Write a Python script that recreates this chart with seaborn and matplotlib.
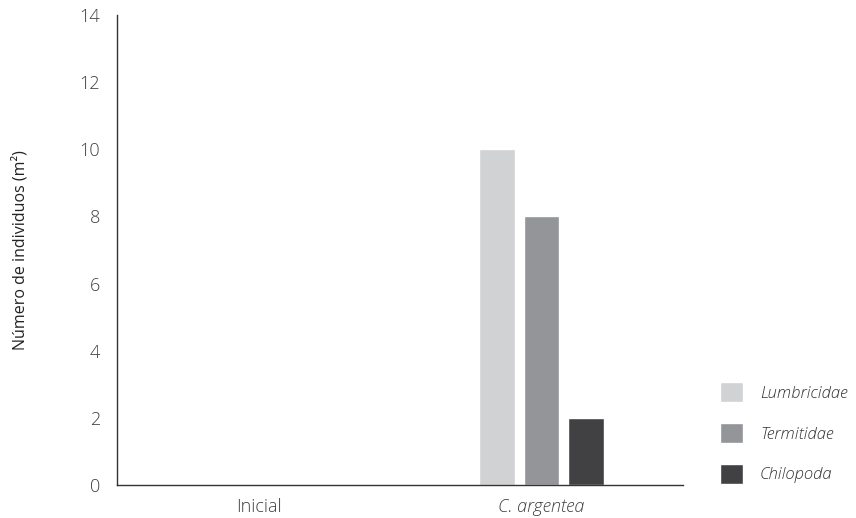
import pandas as pd
import seaborn as sns
import matplotlib.pyplot as plt

# data
tratamientos = ["Inicial", "C. argentea"]
grupos = ["Lumbricidae", "Termitidae", "Chilopoda"]
lumbricidae = [0, 10]
termitidae = [0, 8]
chilopoda = [0, 2]
colores = ["#d1d2d4", "#939598", "#414042"]

df = pd.DataFrame({
    "Tratamiento": tratamientos * 3,
    "Grupo": [g for g in grupos for _ in tratamientos],
    "Individuos": lumbricidae + termitidae + chilopoda,
})

sns.set_style("white")
plt.rcParams["font.family"] = ["Open Sans", "DejaVu Sans"]
plt.rcParams["font.weight"] = "light"

fig = plt.figure(figsize=(8.56, 5.18), dpi=100)
ax = fig.add_axes([117 / 856, 33 / 518, 566 / 856, 470 / 518])

sns.barplot(data=df, x="Tratamiento", y="Individuos", hue="Grupo",
            palette=colores, width=0.47, gap=0.19, ax=ax, saturation=1)

ax.set_ylim(0, 14)
ax.set_xlim(-0.5, 1.5)
ax.set_yticks(range(0, 15, 2))
ax.tick_params(axis="both", length=0, labelsize=13, labelcolor="#404040", pad=9)
ax.tick_params(axis="y", pad=12)
for lab in ax.get_xticklabels():
    if lab.get_text() == "C. argentea":
        lab.set_style("italic")
ax.set_xlabel("")
ax.set_ylabel("Número de individuos (m²)", fontsize=11.5, color="#222222", fontweight="normal")
ax.yaxis.set_label_coords(-0.157, 0.5)

sns.despine(ax=ax)
ax.spines["left"].set_color("#333333")
ax.spines["bottom"].set_color("#333333")
ax.spines["left"].set_linewidth(1)
ax.spines["bottom"].set_linewidth(1)

handles, labels = ax.get_legend_handles_labels()
ax.get_legend().remove()
leg = fig.legend(handles, labels, loc="center left", bbox_to_anchor=(705 / 856, (518 - 433) / 518),
                 frameon=False, handlelength=1.4, handleheight=1.4, labelspacing=1.3,
                 handletextpad=1.0, prop={"size": 12, "style": "italic", "weight": "light"})
for t in leg.get_texts():
    t.set_color("#333333")

fig.savefig("out.png", dpi=100)
